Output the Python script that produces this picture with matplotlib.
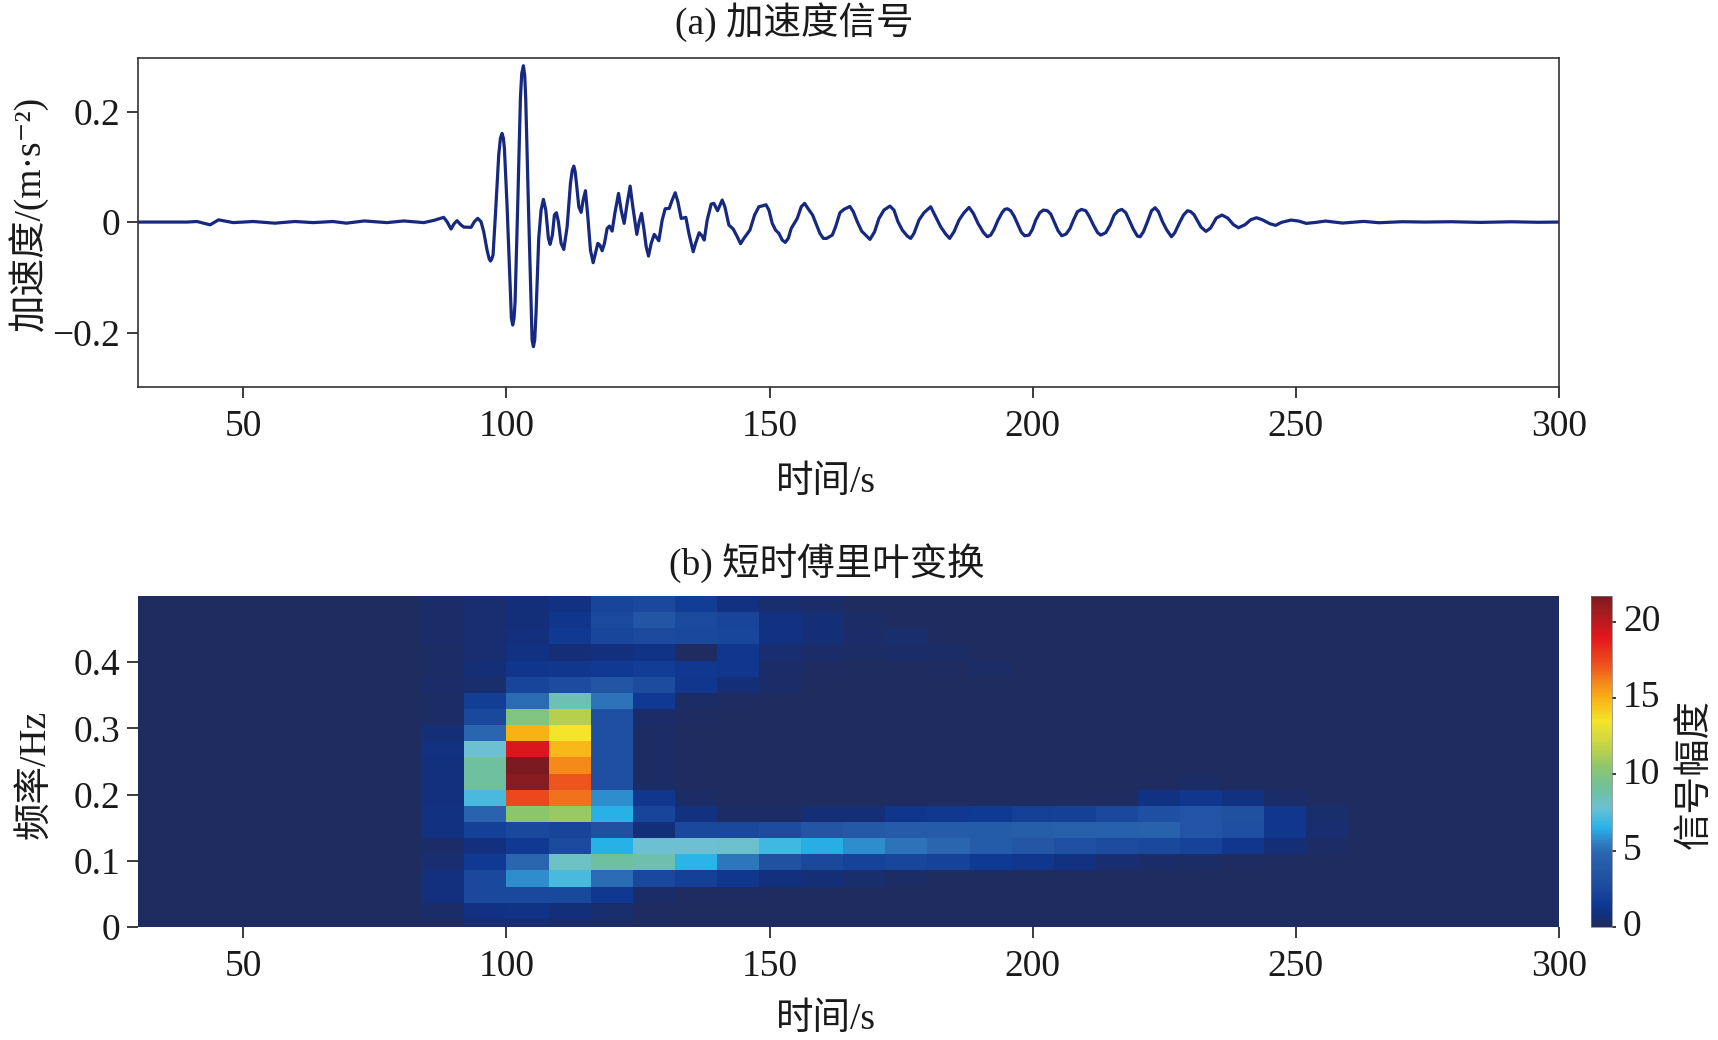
import numpy as np
import matplotlib
matplotlib.use("Agg")
import matplotlib.pyplot as plt
from matplotlib.colors import LinearSegmentedColormap
from matplotlib.transforms import ScaledTranslation

plt.rcParams['font.family'] = ['Liberation Serif', 'Noto Sans CJK SC', 'DejaVu Serif']

# acceleration record, (time [s], acc [m/s^2])
acc_t = [30, 39.3, 41.2, 43.7, 45.3, 48.1, 51.9, 56, 59.8, 63.3, 67, 69.6, 73, 76.05, 77.3, 80.5, 84.3, 86.2,
         87.45, 88.08, 88.72, 89.48, 90.11, 90.62, 91.25, 91.89, 93.28, 93.91, 94.55, 95.18, 95.69, 96.32, 96.7, 96.96,
         97.21, 97.46, 97.91, 98.54, 98.86, 99.17, 99.43, 99.62, 100.12, 100.63, 100.95, 101.2, 101.45, 101.65, 102.15,
         102.66, 102.91, 103.23, 103.48, 103.67, 104.18,
         104.69, 104.88, 105.13, 105.38, 105.64, 106.14, 106.59, 107.03, 107.48, 107.98, 108.3, 108.74, 109.12, 109.5,
         109.88, 110.39, 110.9, 111.54, 112.17, 112.5, 112.8, 113.05, 113.31, 113.76, 114.2, 114.58, 115.02, 115.47,
         115.97, 116.48,
         116.92, 117.37, 117.75, 118.19, 118.63, 119.14, 119.59, 120.09, 120.6, 121.3, 121.8, 122.37, 122.94,
         123.51, 124.02, 124.78, 125.23, 125.67, 126.11, 126.56, 127.0, 127.51, 128.08, 128.96, 129.6, 130.17,
         130.93, 131.5, 132.07, 132.58, 133.21, 134.1, 134.67, 135.49, 135.94, 136.63, 137.2, 137.58, 138.15,
         138.91, 139.42, 140.12, 141.0, 141.51, 142.27, 143.1, 143.86, 144.49, 145.12, 146.27, 147.15, 147.97,
         148.73, 149.31, 149.88, 150.51, 151.14, 151.78, 152.41, 152.98, 153.55, 154.12, 155.26, 156.02, 156.66,
         157.29, 158.18, 158.94, 159.57, 160.21, 160.84, 161.92, 162.55, 163.37, 164.13, 165.27, 165.91, 166.67,
         167.49, 168.25, 169.08, 169.96, 170.79, 171.74, 172.88, 173.64, 174.4, 175.22, 176.17, 176.81, 177.44,
         178.39, 179.34, 180.61, 181.56, 182.51, 183.46, 184.22, 185.05, 186.0, 186.95, 187.9, 188.72, 189.61,
         190.62, 191.38,
         192.02, 192.65, 193.41, 194.17, 194.68, 195.19, 195.82, 196.46, 197.22, 197.85, 198.48, 199.31, 199.94,
         200.58, 201.34, 202.03, 202.79, 203.43, 204.06, 204.82, 205.52, 206.34, 207.1, 207.74, 208.5, 209.26,
         210.08, 210.71, 211.54, 212.3, 212.93, 213.88, 214.71, 215.47, 216.23, 216.93, 217.69, 218.32, 219.14,
         219.9, 220.41, 221.04, 221.8, 222.57, 223.26, 223.9, 224.66, 225.48, 226.37, 227.0, 227.83, 228.65,
         229.41, 230.04,
         230.66, 231.97, 232.92,
         233.79, 234.88, 235.97, 237.06, 238.15, 239.1, 240.34, 241.43, 242.52, 243.61, 245.07, 246.16, 247.25,
         249.07, 250.52, 251.98, 253.8, 255.62, 258.9, 262.9, 265.8, 270.2, 274.5, 279.5, 285, 291, 296, 300]
acc_v = [0, 0, .001, -.005, .004, -.001, .001, -.002, .001, -.001, .001, -.002, .002, 0, -.001, .002, -.001, .003,
         .0067, .0085, .0006, -.0126, -.0024, .0025, -.0042, -.0090, -.0096, .0006, .0067, .0006, -.0175, -.0506, -.0657,
         -.0706, -.0670, -.0597, .0127, .1213, .1515, .1605, .1515, .1334, .0308, -.0959, -.1743, -.1864, -.1743, -.1442,
         .0308, .2239, .269, .2830, .266, .2239,
         .0308, -.1442, -.2135, -.2256, -.2135, -.1622, -.0295, .0218, .0411, .0218, -.0295, -.0404, -.0235, .0127, .0169,
         .0006, -.0386, -.0495, -.0085, .0700, .093, .1013, .092, .0700, .0277, .0175, .0398, .0567, .0096, -.0507,
         -.0736,
         -.0567, -.0386, -.0416, -.0519, -.0386, -.0115, -.0073, -.0163, .0157, .0519, .0217, -.0024, .0338,
         .0651, .0277, -.0223, .0006, .0157, -.0115, -.0447, -.0616, -.0386, -.0223, -.0338, .0036, .0241,
         .0247, .0398, .0531, .0368, .0066, .0084, -.0205, -.0537, -.0386, -.0193, -.0254, -.0326, .0036,
         .0326, .0338, .0205, .0398, .0277, -.0054, -.0127, -.0266, -.0392, -.0296, -.0145, .0127, .0277,
         .0295, .0314, .0217, -.0024, -.0145, -.0205, -.0326, -.0368, -.0296, -.0115, .0066, .0277, .0338,
         .0247, .0127, -.0054, -.0205, -.0296, -.0296, -.0235, -.0085, .0169, .0229, .0283, .0187, .0006,
         -.0163, -.0235, -.0314, -.0175, .0066, .0217, .0289, .0217, .0006, -.0145, -.0254, -.0296, -.0205,
         .0036, .0169, .0277, .0096, -.0085, -.0217, -.0296, -.0175, .0036, .0169, .0265, .0157, -.0024,
         -.0187, -.0266,
         -.0236, -.0133, .0036, .0169, .0229, .0241, .0205, .0108, -.0055, -.0187, -.0248, -.0236, -.0133,
         .0036, .0169, .0217, .0205, .0145, .0006, -.0157, -.0248, -.0217, -.0115, .0036, .0187, .0229,
         .0205, .0108, -.0055, -.0187, -.0236, -.0193, -.0055, .0126, .0205, .0229, .0169, .0036, -.0133,
         -.0254, -.0266, -.0175, .0006, .0205, .0259, .0187, .0006, -.0145, -.0266, -.0193, -.0024, .0126,
         .0205, .0187,
         .0133, -.0090, -.0169,
         -.0109, .0072, .0127, .0072, -.0048, -.0103, -.0048, .0042, .0078, .0042, -.0030, -.0060, -.0006,
         .0036, .0018, -.0024, -.0006, .0018, -.0018, .0012, -.0012, .0006, 0, .0006, -.0006, .0005, -.0004, 0]

# STFT magnitude for windows 84..260 s, top row is the highest frequency bin
stft_rows = [
    [.3, .5, .7, 1.0, 2.3, 2.5, 1.7, .9, .4, .3, 0, 0, 0, 0, 0, 0, 0, 0, 0, 0, 0, 0],
    [.3, .5, .7, 1.2, 2.7, 3.5, 2.7, 2.3, .9, .6, .2, 0, 0, 0, 0, 0, 0, 0, 0, 0, 0, 0],
    [.3, .5, .8, 1.5, 2.4, 2.7, 2.5, 2.4, 1.0, .6, .3, .4, 0, 0, 0, 0, 0, 0, 0, 0, 0, 0],
    [.2, .5, 1.0, .6, .8, 1.1, .1, 1.3, .5, .3, .2, .3, .2, 0, 0, 0, 0, 0, 0, 0, 0, 0],
    [.2, .6, 1.2, 1.3, 1.5, 1.7, 1.4, 1.3, .3, .1, 0, 0, .1, .2, 0, 0, 0, 0, 0, 0, 0, 0],
    [.3, .4, 2.3, 2.8, 3.5, 2.8, 1.3, .6, .3, 0, 0, 0, 0, 0, 0, 0, 0, 0, 0, 0, 0, 0],
    [.2, 1.8, 5, 8.5, 5.2, 1.5, .2, .1, 0, 0, 0, 0, 0, 0, 0, 0, 0, 0, 0, 0, 0, 0],
    [.2, 2.5, 10, 11.5, 3, .3, .1, 0, 0, 0, 0, 0, 0, 0, 0, 0, 0, 0, 0, 0, 0, 0],
    [.6, 4.8, 15, 13.5, 3, .2, 0, 0, 0, 0, 0, 0, 0, 0, 0, 0, 0, 0, 0, 0, 0, 0],
    [.9, 7.8, 19.2, 14.8, 3, .2, 0, 0, 0, 0, 0, 0, 0, 0, 0, 0, 0, 0, 0, 0, 0, 0],
    [.8, 9, 21.7, 16, 3, .2, 0, 0, 0, 0, 0, 0, 0, 0, 0, 0, 0, 0, 0, 0, 0, 0],
    [.8, 9, 21.3, 17.2, 3, .2, 0, 0, 0, 0, 0, 0, 0, 0, 0, 0, 0, .1, .2, 0, 0, 0],
    [.8, 7.2, 17.5, 16.5, 5.8, 1.3, .2, 0, 0, 0, 0, 0, 0, 0, 0, 0, .1, 1.0, 1.3, .9, .3, 0],
    [.9, 4.6, 10.5, 10.8, 6.5, 2.3, .9, .2, .2, .6, .6, 1.2, 1.4, 1.6, 1.9, 2, 2.5, 3, 3.4, 3.2, 1.3, .4],
    [.9, 2, 2.5, 2.3, 3.2, .7, 2.5, 2.6, 2.8, 3.5, 3.8, 3.9, 4, 4, 4.2, 4.3, 4.4, 4.5, 3.4, 3, 1.3, .5],
    [.3, .8, 1.5, 2.7, 6.5, 7.8, 7.8, 7.9, 7.0, 6.4, 5.8, 5.2, 4.8, 4, 3.6, 3.1, 2.8, 2.6, 2.2, 1.3, .6, .2],
    [.5, 1.5, 4.8, 8.2, 9, 8.7, 6.6, 5.3, 3.3, 2.6, 2.2, 2.4, 2.2, 1.6, 1.3, .9, .5, .3, .2, .1, 0, 0],
    [.8, 2.5, 5.8, 7.2, 5, 2.5, 2, 1.3, .8, .6, .4, .2, 0, 0, 0, 0, 0, 0, 0, 0, 0, 0],
    [.8, 2.5, 2.5, 2.6, 1.4, .3, .1, .1, 0, 0, 0, 0, 0, 0, 0, 0, 0, 0, 0, 0, 0, 0],
    [.3, 1, 1.1, .7, .4, .1, 0, 0, 0, 0, 0, 0, 0, 0, 0, 0, 0, 0, 0, 0, 0, 0],
    [0, .5, .5, .3, .2, .1, 0, 0, 0, 0, 0, 0, 0, 0, 0, 0, 0, 0, 0, 0, 0, 0],
]
first_col = 7
n_cols = 34
win_step = 8
win_start = 28
freq_step = 1 / 41

time_ticks = [50, 100, 150, 200, 250, 300]
acc_ticks = [-0.2, 0, 0.2]
acc_labels = ['\u22120.2', '0', '0.2']
freq_ticks = [0, 0.1, 0.2, 0.3, 0.4]
freq_labels = ['0', '0.1', '0.2', '0.3', '0.4']
amp_ticks = [0, 5, 10, 15, 20]

# jet-like colour ramp with the washed-out print tones
ramp_vals = [0, .8, 1.5, 3, 4.8, 5.5, 6.5, 7.8, 9, 10.5, 11.5, 13.5, 15, 16, 17, 19, 20.5, 21.7]
ramp_cols = ['#1f2c5f', '#12307f', '#0f3a94', '#1f4fa0', '#2a66b0', '#2f7ec2', '#27b3e8', '#6cc0d3', '#6fc09f',
             '#8cc66e', '#b7d04e', '#f5e52a', '#f9b116', '#f58a1a', '#ee5a1e', '#e4161c', '#a91c20', '#7b1b1f']
vmax = 21.7
cmap = LinearSegmentedColormap.from_list('print_jet', [(v / vmax, c) for v, c in zip(ramp_vals, ramp_cols)])

W, H = 1718, 1040
FS = 27
INK = '#1a1a1a'


def box(left, top, right, bottom):
    return [left / W, 1 - bottom / H, (right - left) / W, (bottom - top) / H]


def label(x, y, s, rot=0):
    fig.text(x / W, 1 - y / H, s, ha='center', va='center', rotation=rot, fontsize=FS, color=INK)


fig = plt.figure(figsize=(W / 100, H / 100), dpi=100)

ax1 = fig.add_axes(box(138, 58, 1559, 387))
ax1.plot(acc_t, acc_v, color='#16287f', lw=2.3)
ax1.set_xlim(30, 300)
ax1.set_ylim(-0.2986, 0.297)
ax1.set_yticks(acc_ticks, acc_labels)
for s in ax1.spines.values():
    s.set_linewidth(1.2)
    s.set_color('#333333')

ax2 = fig.add_axes(box(138, 596, 1559, 927))
stft = np.zeros((len(stft_rows), n_cols))
stft[:, first_col:first_col + len(stft_rows[0])] = np.array(stft_rows)[::-1]
t_edges = win_start + win_step * np.arange(n_cols + 1)
f_edges = (np.arange(len(stft_rows) + 1) - 0.5) * freq_step
mesh = ax2.pcolormesh(t_edges, f_edges, stft, cmap=cmap, vmin=0, vmax=vmax, shading='flat')
ax2.set_xlim(30, 300)
ax2.set_ylim(0, 0.5)
ax2.set_yticks(freq_ticks, freq_labels)
for s in ax2.spines.values():
    s.set_visible(False)

for ax in (ax1, ax2):
    ax.set_xticks(time_ticks, [str(t) for t in time_ticks])
    ax.tick_params(axis='both', length=8, width=1.2, color=INK, labelsize=FS, labelcolor=INK)
    ax.tick_params(axis='x', pad=8)
    ax.tick_params(axis='y', pad=5)

cax = fig.add_axes(box(1591, 596, 1612, 927))
cb = fig.colorbar(mesh, cax=cax)
cb.set_ticks(amp_ticks)
cb.ax.tick_params(length=3, width=1.2, color=INK, labelsize=FS, labelcolor=INK, pad=5)
cb.outline.set_linewidth(0.5)
cb.outline.set_edgecolor('#777777')
# colorbar numbers sit a little above their ticks
for t in cax.get_yticklabels():
    t.set_transform(t.get_transform() + ScaledTranslation(0, 3 / 72, fig.dpi_scale_trans))

label(794, 22, '(a) 加速度信号')
label(827, 563, '(b) 短时傅里叶变换')
label(826, 483, '时间/s')
label(826, 1020, '时间/s')
label(28, 213, '加速度/(m·s⁻²)', 90)
label(35, 774, '频率/Hz', 90)
label(1695, 774, '信号幅度', 90)

fig.savefig('out.png', dpi=100)
